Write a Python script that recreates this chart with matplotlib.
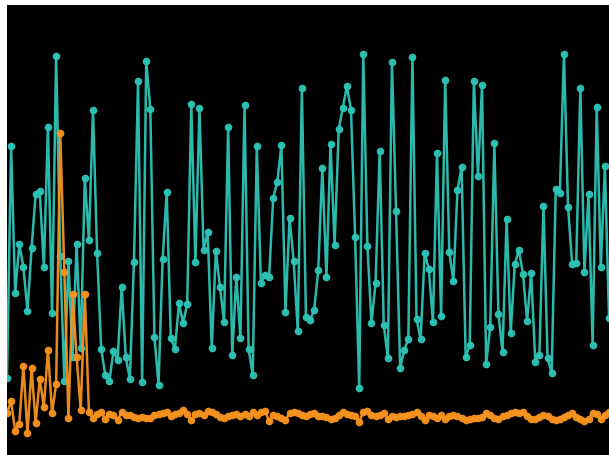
import matplotlib
matplotlib.use("Agg")
import matplotlib.pyplot as plt
import numpy as np

# series (no axis labels, arbitrary units)
teal = [77, 309, 162, 211, 188, 144, 207, 261, 264, 188,
        328, 142, 399, 199, 74, 194, 98, 211, 107, 277,
        215, 345, 202, 106, 80, 74, 104, 95, 168, 98,
        76, 193, 374, 73, 394, 346, 118, 70, 196, 263,
        117, 106, 152, 132, 151, 351, 193, 347, 205, 223,
        107, 204, 168, 133, 328, 100, 178, 117, 350, 106,
        80, 309, 172, 180, 178, 257, 273, 310, 143, 237,
        194, 124, 367, 138, 135, 145, 185, 287, 178, 311,
        210, 326, 347, 369, 345, 218, 67, 401, 209, 132,
        172, 304, 130, 97, 393, 244, 87, 105, 116, 398,
        136, 116, 202, 186, 133, 302, 139, 375, 203, 174,
        265, 288, 98, 110, 374, 279, 370, 91, 128, 312,
        141, 103, 236, 122, 191, 205, 181, 134, 182, 93,
        100, 249, 97, 82, 266, 262, 401, 248, 191, 192,
        367, 183, 261, 110, 348, 188, 289, 137]

orange = [42, 54, 24, 31, 89, 22, 87, 32, 76, 48, 105, 42, 71, 322, 183, 37, 161, 98, 45, 161, 43, 37,
          41, 43, 36, 41, 40, 35, 43, 40, 40, 38, 37, 38, 37, 37, 40, 41, 42, 43, 39, 41, 42, 45, 41, 35,
          41, 42, 40, 44, 43, 41,
          38, 37, 39, 40, 41, 39, 41, 39, 43, 40, 43, 44, 34, 40, 39, 37, 35, 42, 43, 42, 40, 39, 41, 42,
          39, 39, 38, 36, 37, 40, 43, 41,
          40, 39, 33, 43, 44, 40, 39, 40, 42, 36, 39, 38, 39, 39, 40, 41, 43, 39, 35, 40, 39, 37, 40, 36,
          39, 40, 39, 37, 35, 36, 37,
          37, 38, 42, 40, 37, 36, 39, 40, 42, 43, 42, 43, 39, 36, 36, 38, 40, 39, 36, 35, 36, 38, 40, 42,
          38, 36, 34, 36, 42, 41, 36, 40, 43]

x = np.arange(len(teal))

fig = plt.figure(figsize=(6.09, 4.56), dpi=100)
fig.patch.set_facecolor('white')
ax = fig.add_axes([7/609., 0, 602/609., 450/456.])
ax.set_facecolor('black')

ax.plot(x, teal, color='#2ec4b6', linewidth=1.8, marker='o', markersize=4.5, alpha=0.95)
ax.plot(x, orange, color='#f7931e', linewidth=1.8, marker='o', markersize=4.5, alpha=0.95)

ax.set_xlim(0, len(teal) - 1)
ax.set_ylim(0, 450)
ax.set_xticks([])
ax.set_yticks([])
for s in ax.spines.values():
    s.set_visible(False)

plt.savefig('out.png', dpi=100)
